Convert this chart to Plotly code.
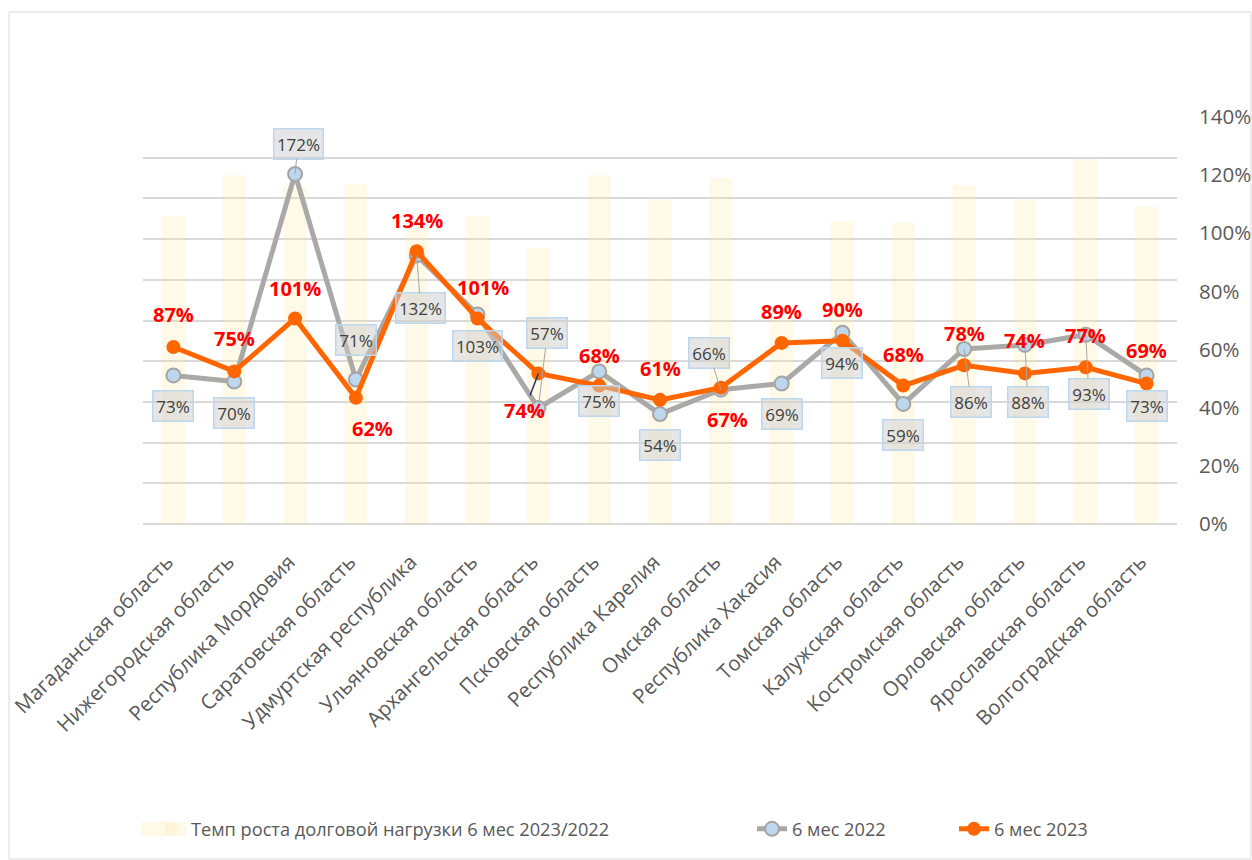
import plotly.graph_objects as go

categories = ["Магаданская область", "Нижегородская область", "Республика Мордовия",
              "Саратовская область", "Удмуртская республика", "Ульяновская область",
              "Архангельская область", "Псковская область", "Республика Карелия",
              "Омская область", "Республика Хакасия", "Томская область",
              "Калужская область", "Костромская область", "Орловская область",
              "Ярославская область", "Волгоградская область"]
growth = [1.06, 1.20, 1.16, 1.17, 1.02, 1.06, 0.95, 1.20, 1.115, 1.19, 0.71,
          1.04, 1.035, 1.165, 1.115, 1.255, 1.09]
v2022 = [0.73, 0.70, 1.72, 0.71, 1.32, 1.03, 0.57, 0.75, 0.54, 0.66, 0.69,
         0.94, 0.59, 0.86, 0.88, 0.93, 0.73]
v2023 = [0.87, 0.75, 1.01, 0.62, 1.34, 1.01, 0.74, 0.68, 0.61, 0.67, 0.89,
         0.90, 0.68, 0.78, 0.74, 0.77, 0.69]
name_bar = "Темп роста долговой нагрузки 6 мес 2023/2022"
name_2022 = "6 мес 2022"
name_2023 = "6 мес 2023"

# label placement (pixel offsets, dy positive = down) and leader flags
g_off = [(0, 31), (0, 31), (3, -30), (0, -40), (4, 53), (0, 32), (9, -75), (0, 30), (0, 31),
         (-12, -37), (0, 30), (0, 30), (0, 31), (7, 53), (3, 57), (3, 59), (0, 31)]
g_lead = {2, 4, 6, 9, 13, 14, 15}
o_off = [(0, -32), (0, -33), (0, -30), (17, 31), (0, -31), (5, -31), (-14, 37), (0, -30), (0, -31),
         (7, 32), (0, -31), (0, -31), (0, -31), (0, -32), (0, -33), (0, -32), (0, -33)]
o_lead = {6}

FONT = "Open Sans"
TXT = "#595959"
BAR_COLOR = "rgba(255,226,150,0.22)"

# plot area on screen: x 143..1177, y 117..524
W, H = 1252, 860
PL, PT, PW, PH = 143, 117, 1034, 407
def px(x):  # screen x -> paper
    return (x - PL) / PW
def py(y):  # screen y -> paper
    return (PT + PH - y) / PH

fig = go.Figure()
fig.add_trace(go.Bar(x=categories, y=growth, name=name_bar, yaxis="y",
                     marker=dict(color=BAR_COLOR, line=dict(width=0)),
                     legend="legend", hoverinfo="skip"))
fig.add_trace(go.Scatter(x=categories, y=v2022, name=name_2022, yaxis="y2", mode="lines+markers",
                         line=dict(color="#ABA8A8", width=5),
                         marker=dict(size=14, color="#BDD7EE", line=dict(color="#A5A5A5", width=2)),
                         legend="legend2"))
fig.add_trace(go.Scatter(x=categories, y=v2023, name=name_2023, yaxis="y2", mode="lines+markers",
                         line=dict(color="#FF6600", width=5),
                         marker=dict(size=14, color="#FF6600"),
                         legend="legend3"))

ann = []
for i, (c, v) in enumerate(zip(categories, v2022)):
    dx, dy = g_off[i]
    txt = f"{round(v*100)}%"
    common = dict(x=c, y=v, xref="x", yref="y2", text=txt,
                  font=dict(family=FONT, size=17, color="#404040"),
                  bgcolor="rgba(205,205,205,0.5)", bordercolor="#BDD7EE", borderwidth=1.5,
                  borderpad=2, width=9 * len(txt) + 8, height=25)
    if i in g_lead:
        ann.append(dict(**common, showarrow=True, ax=dx, ay=dy, arrowhead=0, arrowwidth=1,
                        arrowcolor="#A6A6A6", standoff=0))
    else:
        ann.append(dict(**common, showarrow=False, xshift=dx, yshift=-dy))
for i, (c, v) in enumerate(zip(categories, v2023)):
    dx, dy = o_off[i]
    common = dict(x=c, y=v, xref="x", yref="y2", text=f"<b>{round(v*100)}%</b>",
                  font=dict(family=FONT, size=20, color="#FF0000"))
    if i in o_lead:
        ann.append(dict(**common, showarrow=True, ax=dx, ay=dy, arrowhead=0, arrowwidth=1.5,
                        arrowcolor="#1F3864", standoff=0))
    else:
        ann.append(dict(**common, showarrow=False, xshift=dx, yshift=-dy))

LEG_Y = py(829)
LEG_FONT = dict(family=FONT, size=18.2, color=TXT)
fig.update_layout(
    width=W, height=H,
    margin=dict(l=PL, r=W - PL - PW, t=PT, b=H - PT - PH, autoexpand=False),
    paper_bgcolor="white", plot_bgcolor="rgba(0,0,0,0)",
    font=dict(family=FONT, color=TXT, size=18),
    bargap=0.62,
    xaxis=dict(type="category", tickangle=-45, showgrid=False, showline=False, ticks="",
               automargin=False, ticklabelstandoff=21, ticklabelshift=-6,
               tickfont=dict(family=FONT, size=20.5, color=TXT), range=[-0.5, 16.5]),
    yaxis=dict(side="right", range=[0, 1.4], tickvals=[0, 0.2, 0.4, 0.6, 0.8, 1.0, 1.2, 1.4],
               tickformat=".0%", showgrid=False, zeroline=False, showline=False, ticks="",
               automargin=False,
               ticklabelstandoff=21, tickfont=dict(family=FONT, size=20.5, color=TXT)),
    yaxis2=dict(overlaying="y", side="left", range=[0, 2.0], automargin=False,
                tickvals=[0, 0.2, 0.4, 0.6, 0.8, 1.0, 1.2, 1.4, 1.6, 1.8, 2.0],
                showticklabels=False, showgrid=True, gridcolor="#D9D9D9", gridwidth=1.5,
                zeroline=True, zerolinecolor="#D9D9D9", zerolinewidth=1.5, showline=False, ticks=""),
    legend=dict(x=px(151), y=LEG_Y, xanchor="left", yanchor="middle", orientation="h",
                font=LEG_FONT, bgcolor="rgba(0,0,0,0)"),
    legend2=dict(x=px(752), y=LEG_Y, xanchor="left", yanchor="middle", orientation="h",
                 font=LEG_FONT, bgcolor="rgba(0,0,0,0)"),
    legend3=dict(x=px(954), y=LEG_Y, xanchor="left", yanchor="middle", orientation="h",
                 font=LEG_FONT, bgcolor="rgba(0,0,0,0)"),
    annotations=ann,
    shapes=[
        dict(type="rect", xref="paper", yref="paper", x0=px(9), x1=px(1251),
             y0=py(859), y1=py(12), line=dict(color="#D9D9D9", width=1), layer="below"),
        # wide legend swatch for the bar series (Excel style)
        dict(type="rect", xref="paper", yref="paper", x0=px(141), x1=px(186),
             y0=py(836), y1=py(822), fillcolor=BAR_COLOR, line=dict(width=0), layer="below"),
    ],
    showlegend=True,
)
fig.write_html("out.html", config={"displayModeBar": False},
               post_script="document.body.style.margin='0';document.body.style.overflow='hidden';")
